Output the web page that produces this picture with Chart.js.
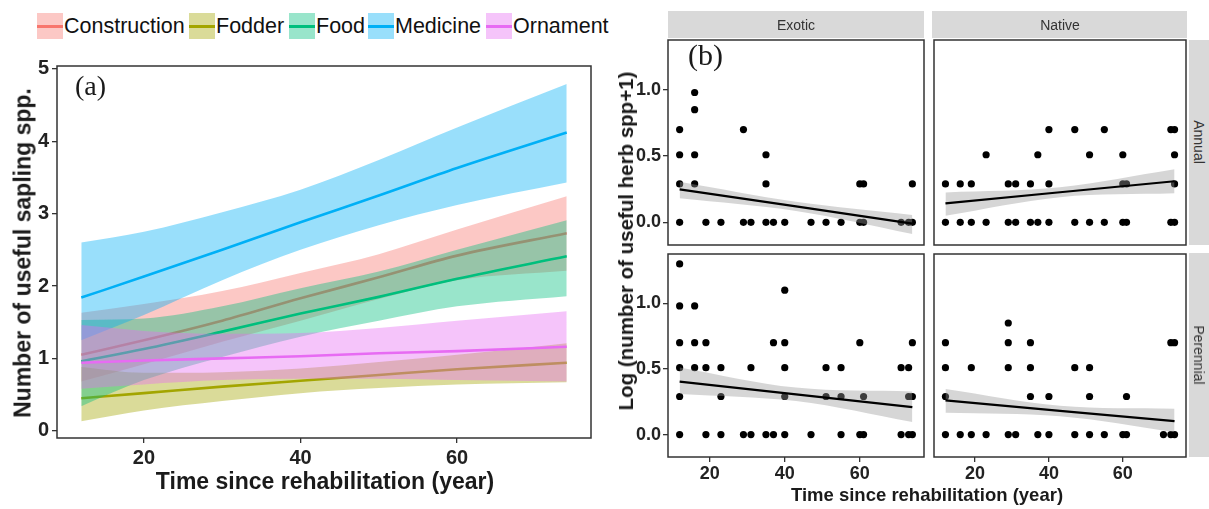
<!DOCTYPE html>
<html>
<head>
<meta charset="utf-8">
<script src="https://cdn.jsdelivr.net/npm/chart.js@4.4.1/dist/chart.umd.min.js"></script>
<style>
  body { margin: 0; width: 1209px; height: 509px; position: relative; background: #fff; overflow: hidden;
         font-family: 'Liberation Sans', Arial, sans-serif; }
  .box { position: absolute; }
  .txt { position: absolute; white-space: nowrap; color: #1a1a1a; }
  .rot { transform: translate(-50%, -50%) rotate(-90deg); }
  .rot90 { transform: translate(-50%, -50%) rotate(90deg); }
  .ctr { transform: translate(-50%, -50%); }
  .strip { position: absolute; background: #d9d9d9; }
  .key { position: absolute; top: 13px; width: 26px; height: 26px; }
  .key i { position: absolute; left: 0; right: 0; top: 12px; height: 2.5px; }
  .lab { position: absolute; top: 13px; line-height: 26px; font-size: 21.5px; color: #111; }
</style>
</head>
<body>
<div id="legend"></div>
<div class="box" style="left:0;top:0;width:600px;height:509px"><canvas id="chartA"></canvas></div>
<div class="box" style="left:620px;top:0;width:310px;height:250px"><canvas id="exoticAnnual"></canvas></div>
<div class="box" style="left:930px;top:0;width:260px;height:250px"><canvas id="nativeAnnual"></canvas></div>
<div class="box" style="left:620px;top:250px;width:310px;height:259px"><canvas id="exoticPerennial"></canvas></div>
<div class="box" style="left:930px;top:250px;width:260px;height:259px"><canvas id="nativePerennial"></canvas></div>

<!-- panel labels and axis titles -->
<div class="txt" style="left:75px;top:70px;font:28px 'Liberation Serif',serif;">(a)</div>
<div class="txt" style="left:688px;top:38px;font:30px 'Liberation Serif',serif;">(b)</div>
<div class="txt rot" style="left:23px;top:253px;font-weight:bold;font-size:23px;">Number of useful sapling spp.</div>
<div class="txt ctr" style="left:325px;top:481px;font-weight:bold;font-size:23px;">Time since rehabilitation (year)</div>
<div class="txt rot" style="left:626px;top:241px;font-weight:bold;font-size:20.5px;">Log (number of useful herb spp+1)</div>
<div class="txt ctr" style="left:927px;top:495px;font-weight:bold;font-size:18.5px;">Time since rehabilitation (year)</div>

<!-- facet strips -->
<div class="strip" style="left:668px;top:11px;width:256px;height:27px"></div>
<div class="strip" style="left:932px;top:11px;width:255px;height:27px"></div>
<div class="strip" style="left:1189px;top:40px;width:20px;height:205px"></div>
<div class="strip" style="left:1189px;top:253px;width:20px;height:204px"></div>
<div class="txt ctr" style="left:796px;top:25px;font-size:14px;color:#333">Exotic</div>
<div class="txt ctr" style="left:1060px;top:25px;font-size:14px;color:#333">Native</div>
<div class="txt rot90" style="left:1199px;top:142px;font-size:14px;color:#333">Annual</div>
<div class="txt rot90" style="left:1199px;top:355px;font-size:14px;color:#333">Perennial</div>

<script>
// ---- panel (a): fitted sapling counts per use category ----
const CATEGORIES = ['Construction', 'Fodder', 'Food', 'Medicine', 'Ornament'];
const CAT_COLORS = ['#F8766D', '#A3A500', '#00BF7D', '#00B0F6', '#E76BF3'];
const YEARS = [12, 20, 30, 40, 50, 60, 74];

const CONSTRUCTION_FIT = [1.05, 1.25, 1.52, 1.83, 2.12, 2.42, 2.73];
const CONSTRUCTION_LO  = [0.68, 0.92, 1.23, 1.52, 1.82, 2.08, 2.21];
const CONSTRUCTION_HI  = [1.63, 1.75, 1.93, 2.18, 2.44, 2.78, 3.24];

const FODDER_FIT = [0.45, 0.52, 0.61, 0.69, 0.77, 0.85, 0.94];
const FODDER_LO  = [0.13, 0.28, 0.41, 0.52, 0.59, 0.64, 0.67];
const FODDER_HI  = [0.88, 0.80, 0.81, 0.86, 0.95, 1.05, 1.21];

const FOOD_FIT = [0.96, 1.13, 1.37, 1.62, 1.85, 2.10, 2.41];
const FOOD_LO  = [0.34, 0.70, 1.02, 1.30, 1.52, 1.72, 1.86];
const FOOD_HI  = [1.53, 1.55, 1.72, 1.97, 2.20, 2.50, 2.91];

const MEDICINE_FIT = [1.84, 2.13, 2.50, 2.88, 3.25, 3.63, 4.12];
const MEDICINE_LO  = [1.25, 1.60, 2.08, 2.50, 2.84, 3.12, 3.43];
const MEDICINE_HI  = [2.60, 2.75, 3.02, 3.33, 3.74, 4.19, 4.79];

const ORNAMENT_FIT = [0.94, 0.97, 1.00, 1.03, 1.07, 1.10, 1.16];
const ORNAMENT_LO  = [0.58, 0.64, 0.70, 0.72, 0.72, 0.70, 0.68];
const ORNAMENT_HI  = [1.46, 1.38, 1.34, 1.35, 1.42, 1.52, 1.65];

const A_X_TICKS = [20, 40, 60];
const A_Y_TICKS = [0, 1, 2, 3, 4, 5];

// ---- panel (b): log herb counts by origin x life form ----
const B_X_TICKS = [20, 40, 60];
const B_Y_TICKS = [0.0, 0.5, 1.0];
const FIT_X = [12, 43, 74];

const EXOTIC_ANNUAL_X = [12, 12, 12, 12, 16, 16, 16, 16, 19, 23, 29, 29, 31, 35, 35, 35, 37, 40, 47, 51, 55, 60, 60, 61, 61, 71, 73, 74, 74];
const EXOTIC_ANNUAL_Y = [0, 0.29, 0.51, 0.70, 0.29, 0.51, 0.85, 0.98, 0, 0, 0, 0.70, 0, 0, 0.29, 0.51, 0, 0, 0, 0, 0, 0, 0.29, 0, 0.29, 0, 0, 0, 0.29];
const EXOTIC_ANNUAL_FIT = [0.249, 0.12, -0.01];
const EXOTIC_ANNUAL_LO  = [0.181, 0.085, -0.088];
const EXOTIC_ANNUAL_HI  = [0.306, 0.155, 0.055];

const NATIVE_ANNUAL_X = [40, 47, 55, 73, 74,
                         23, 37, 51, 60, 74,
                         12, 16, 19, 29, 31, 35, 40, 60, 61, 74,
                         12, 16, 19, 23, 29, 31, 35, 37, 40, 47, 51, 55, 60, 61, 73, 74];
const NATIVE_ANNUAL_Y = [0.70, 0.70, 0.70, 0.70, 0.70,
                         0.51, 0.51, 0.51, 0.51, 0.51,
                         0.29, 0.29, 0.29, 0.29, 0.29, 0.29, 0.29, 0.29, 0.29, 0.29,
                         0, 0, 0, 0, 0, 0, 0, 0, 0, 0, 0, 0, 0, 0, 0, 0];
const NATIVE_ANNUAL_FIT = [0.143, 0.227, 0.31];
const NATIVE_ANNUAL_LO  = [0.05, 0.19, 0.219];
const NATIVE_ANNUAL_HI  = [0.226, 0.265, 0.40];

const EXOTIC_PERENNIAL_X = [12, 40, 12, 16,
                            12, 16, 19, 37, 40, 60, 74,
                            12, 16, 19, 23, 31, 40, 51, 55, 71, 73,
                            12, 23, 40, 51, 55, 61, 73, 74,
                            12, 19, 23, 29, 31, 35, 37, 40, 47, 55, 60, 61, 71, 73, 74];
const EXOTIC_PERENNIAL_Y = [1.30, 1.10, 0.98, 0.98,
                            0.70, 0.70, 0.70, 0.70, 0.70, 0.70, 0.70,
                            0.51, 0.51, 0.51, 0.51, 0.51, 0.51, 0.51, 0.51, 0.51, 0.51,
                            0.29, 0.29, 0.29, 0.29, 0.29, 0.29, 0.29, 0.29,
                            0, 0, 0, 0, 0, 0, 0, 0, 0, 0, 0, 0, 0, 0, 0];
const EXOTIC_PERENNIAL_FIT = [0.404, 0.306, 0.209];
const EXOTIC_PERENNIAL_LO  = [0.31, 0.255, 0.095];
const EXOTIC_PERENNIAL_HI  = [0.512, 0.358, 0.328];

const NATIVE_PERENNIAL_X = [29,
                            12, 29, 35, 73, 74,
                            12, 19, 29, 35, 47, 51,
                            12, 35, 40, 51, 61,
                            12, 16, 19, 23, 29, 31, 37, 40, 47, 51, 55, 60, 61, 71, 73, 74];
const NATIVE_PERENNIAL_Y = [0.85,
                            0.70, 0.70, 0.70, 0.70, 0.70,
                            0.51, 0.51, 0.51, 0.51, 0.51, 0.51,
                            0.29, 0.29, 0.29, 0.29, 0.29,
                            0, 0, 0, 0, 0, 0, 0, 0, 0, 0, 0, 0, 0, 0, 0, 0];
const NATIVE_PERENNIAL_FIT = [0.26, 0.18, 0.103];
const NATIVE_PERENNIAL_LO  = [0.167, 0.14, 0.02];
const NATIVE_PERENNIAL_HI  = [0.348, 0.22, 0.197];

// ---- helpers ----
Chart.defaults.font.family = "'Liberation Sans', Arial, sans-serif";
Chart.defaults.animation = false;

const toXY = (xs, ys) => xs.map((x, i) => ({ x: x, y: ys[i] }));
const alpha = (hex, a) => {
    const n = parseInt(hex.slice(1), 16);
    return 'rgba(' + (n >> 16) + ',' + ((n >> 8) & 255) + ',' + (n & 255) + ',' + a + ')';
};

// panel border (theme_bw style box round the plotting area)
const framePlugin = {
    id: 'frame',
    afterDatasetsDraw(chart) {
        const a = chart.chartArea, ctx = chart.ctx;
        ctx.save();
        ctx.strokeStyle = '#333';
        ctx.lineWidth = 1.5;
        ctx.strokeRect(a.left, a.top, a.right - a.left, a.bottom - a.top);
        ctx.restore();
    }
};

function axis(opts) {
    return {
        type: 'linear',
        display: opts.display,
        min: opts.min,
        max: opts.max,
        afterBuildTicks: s => { s.ticks = opts.ticks.map(v => ({ value: v })); },
        afterFit: s => {
            // labels never poke outside the panel here, so no extra room is reserved for them
            s.paddingTop = s.paddingBottom = s.paddingLeft = s.paddingRight = 0;
            if (opts.size === undefined) return;
            if (s.isHorizontal()) s.height = opts.size; else s.width = opts.size;
        },
        border: { display: false },
        grid: { drawOnChartArea: false, drawTicks: true, tickLength: 5, color: '#333', lineWidth: 1.3 },
        ticks: {
            padding: opts.pad,
            color: '#222',
            font: { size: opts.font, weight: 'bold' },
            callback: opts.fmt || (v => v)
        }
    };
}

function baseOptions(padding, scales) {
    return {
        responsive: true,
        maintainAspectRatio: false,
        animation: false,
        events: [],
        layout: { padding: padding },
        plugins: { legend: { display: false }, tooltip: { enabled: false } },
        elements: { point: { radius: 0 } },
        scales: scales
    };
}

// give datasets a draw order that follows the array (first entry painted first)
function stack(list) {
    list.forEach((d, i) => { d.order = list.length - i; });
    return list;
}

// ---- legend ----
const KEY_LEFT = [37, 189, 289, 368, 486];
const legend = document.getElementById('legend');
CATEGORIES.forEach((name, i) => {
    const key = document.createElement('div');
    key.className = 'key';
    key.style.left = KEY_LEFT[i] + 'px';
    key.style.background = alpha(CAT_COLORS[i], 0.4);
    const bar = document.createElement('i');
    bar.style.background = CAT_COLORS[i];
    key.appendChild(bar);
    legend.appendChild(key);
    const lab = document.createElement('div');
    lab.className = 'lab';
    lab.style.left = (KEY_LEFT[i] + 27) + 'px';
    lab.textContent = name;
    legend.appendChild(lab);
});

// ---- panel (a) ----
const SERIES_A = [
    [CONSTRUCTION_FIT, CONSTRUCTION_LO, CONSTRUCTION_HI],
    [FODDER_FIT, FODDER_LO, FODDER_HI],
    [FOOD_FIT, FOOD_LO, FOOD_HI],
    [MEDICINE_FIT, MEDICINE_LO, MEDICINE_HI],
    [ORNAMENT_FIT, ORNAMENT_LO, ORNAMENT_HI]
];

const datasetsA = [];
SERIES_A.forEach(([fit, lo, hi], i) => {
    const c = CAT_COLORS[i];
    datasetsA.push({
        label: CATEGORIES[i] + ' upper', data: toXY(YEARS, hi),
        borderWidth: 0, borderColor: 'rgba(0,0,0,0)', cubicInterpolationMode: 'monotone',
        fill: '+1', backgroundColor: alpha(c, 0.4)
    });
    datasetsA.push({
        label: CATEGORIES[i] + ' lower', data: toXY(YEARS, lo),
        borderWidth: 0, borderColor: 'rgba(0,0,0,0)', cubicInterpolationMode: 'monotone', fill: false
    });
    datasetsA.push({
        label: CATEGORIES[i], data: toXY(YEARS, fit),
        borderColor: c, borderWidth: 2.6, cubicInterpolationMode: 'monotone', fill: false
    });
});

new Chart(document.getElementById('chartA'), {
    type: 'line',
    data: { datasets: stack(datasetsA) },
    options: baseOptions({ top: 66, right: 9, left: 0, bottom: 0 }, {
        x: axis({ display: true, min: 8.9, max: 77.1, ticks: A_X_TICKS, size: 71, pad: 3, font: 20 }),
        y: axis({ display: true, min: -0.1, max: 5.04, ticks: A_Y_TICKS, size: 57, pad: 3, font: 20 })
    }),
    plugins: [framePlugin]
});

// ---- panel (b) facets ----
function facet(id, xs, ys, fit, lo, hi, showX, showY, padding, xSize, ySize) {
    const grey = 'rgba(153,153,153,0.4)';
    const datasets = stack([
        { label: 'herbs', data: toXY(xs, ys), showLine: false, pointRadius: 3.6,
          pointBackgroundColor: '#000', pointBorderWidth: 0, borderColor: '#000' },
        { label: 'upper', data: toXY(FIT_X, hi), borderWidth: 0, borderColor: 'rgba(0,0,0,0)',
          fill: '+1', backgroundColor: grey, tension: 0.35 },
        { label: 'lower', data: toXY(FIT_X, lo), borderWidth: 0, borderColor: 'rgba(0,0,0,0)',
          fill: false, tension: 0.35 },
        { label: 'lm', data: toXY(FIT_X, fit), borderColor: '#000', borderWidth: 2.2, fill: false }
    ]);
    new Chart(document.getElementById(id), {
        type: 'line',
        data: { datasets: datasets },
        options: baseOptions(padding, {
            x: axis({ display: showX, min: 8.9, max: 77.1, ticks: B_X_TICKS, size: xSize, pad: 1, font: 18 }),
            y: axis({ display: showY, min: -0.171, max: 1.376, ticks: B_Y_TICKS, size: ySize, pad: 2, font: 18,
                      fmt: v => v.toFixed(1) })
        }),
        plugins: [framePlugin]
    });
}

facet('exoticAnnual', EXOTIC_ANNUAL_X, EXOTIC_ANNUAL_Y, EXOTIC_ANNUAL_FIT, EXOTIC_ANNUAL_LO, EXOTIC_ANNUAL_HI,
      false, true, { top: 40, right: 6, bottom: 5, left: 0 }, undefined, 48);
facet('nativeAnnual', NATIVE_ANNUAL_X, NATIVE_ANNUAL_Y, NATIVE_ANNUAL_FIT, NATIVE_ANNUAL_LO, NATIVE_ANNUAL_HI,
      false, false, { top: 40, right: 3, bottom: 5, left: 2 });
facet('exoticPerennial', EXOTIC_PERENNIAL_X, EXOTIC_PERENNIAL_Y, EXOTIC_PERENNIAL_FIT, EXOTIC_PERENNIAL_LO, EXOTIC_PERENNIAL_HI,
      true, true, { top: 3, right: 6, bottom: 0, left: 0 }, 52, 48);
facet('nativePerennial', NATIVE_PERENNIAL_X, NATIVE_PERENNIAL_Y, NATIVE_PERENNIAL_FIT, NATIVE_PERENNIAL_LO, NATIVE_PERENNIAL_HI,
      true, false, { top: 3, right: 3, bottom: 0, left: 2 }, 52);
</script>
</body>
</html>
